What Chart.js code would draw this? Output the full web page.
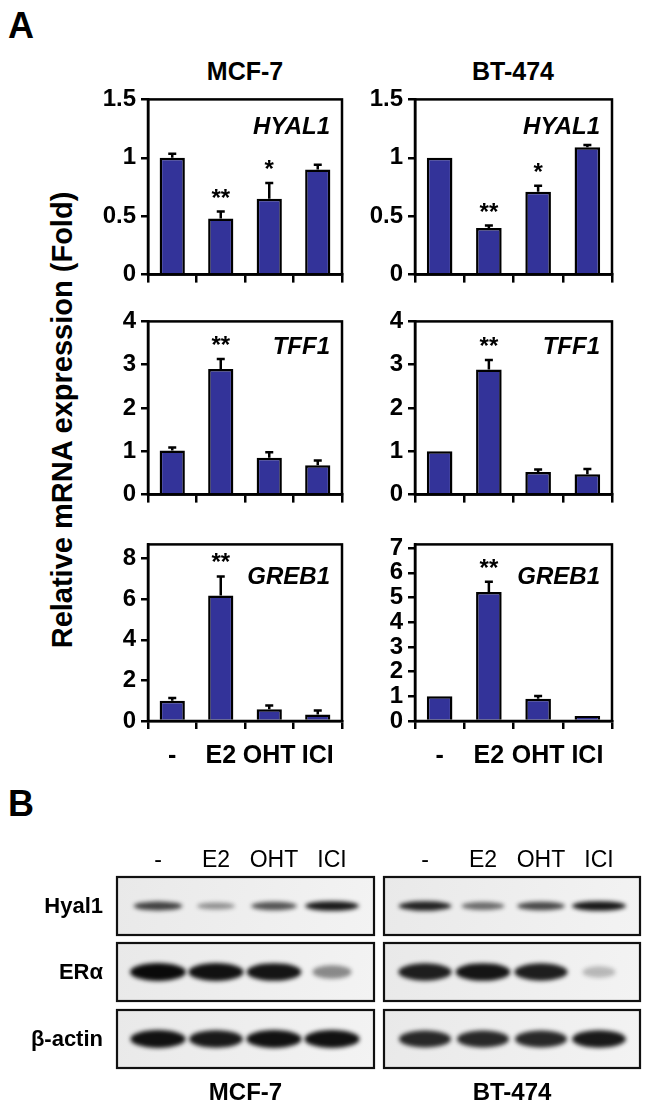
<!DOCTYPE html>
<html>
<head>
<meta charset="utf-8">
<script src="https://cdn.jsdelivr.net/npm/chart.js@4.4.1/dist/chart.umd.min.js"></script>
<style>
  body { margin: 0; background: #fff; }
  #fig { position: relative; width: 650px; height: 1106px; background: #fff; overflow: hidden;
         font-family: "Liberation Sans", Arial, sans-serif; color: #000; }
  canvas { position: absolute; }
  .t { position: absolute; font-weight: bold; white-space: nowrap; line-height: 1; }
  .ctr { transform: translate(-50%, -50%); }
  .rgt { transform: translate(-100%, -50%); }
</style>
</head>
<body>
<div id="fig">
  <div class="t" style="left:8px;top:8px;font-size:36px;">A</div>
  <div class="t ctr" style="left:245px;top:71px;font-size:25px;">MCF-7</div>
  <div class="t ctr" style="left:513px;top:71px;font-size:25px;">BT-474</div>
  <div class="t ctr" style="left:62px;top:420px;font-size:29px;transform:translate(-50%,-50%) rotate(-90deg);">Relative mRNA expression (Fold)</div>

  <canvas id="c1" width="272" height="214" style="left:78px;top:80px;"></canvas>
  <canvas id="c2" width="275" height="214" style="left:345px;top:80px;"></canvas>
  <canvas id="c3" width="272" height="212" style="left:78px;top:302px;"></canvas>
  <canvas id="c4" width="275" height="212" style="left:345px;top:302px;"></canvas>
  <canvas id="c5" width="272" height="260" style="left:78px;top:525px;"></canvas>
  <canvas id="c6" width="275" height="260" style="left:345px;top:525px;"></canvas>

  <div class="t" style="left:8px;top:786px;font-size:36px;">B</div>
  <canvas id="blot" width="650" height="230" style="left:0;top:860px;"></canvas>
  <div id="blotText"></div>
</div>

<script>
const FONT = '"Liberation Sans", Arial, sans-serif';

// treatments
const categories = ['-', 'E2', 'OHT', 'ICI'];

// HYAL1
const mcfHyal1 = [1.0, 0.48, 0.65, 0.90];
const mcfHyal1Err = [0.035, 0.06, 0.135, 0.04];
const btHyal1 = [1.0, 0.40, 0.71, 1.09];
const btHyal1Err = [0, 0.02, 0.05, 0.02];
const hyal1Stars = ['', '**', '*', ''];
const hyal1Ticks = [0, 0.5, 1, 1.5];

// TFF1
const mcfTff1 = [1.02, 2.90, 0.85, 0.68];
const mcfTff1Err = [0.07, 0.23, 0.13, 0.11];
const btTff1 = [1.0, 2.89, 0.52, 0.47];
const btTff1Err = [0, 0.22, 0.06, 0.12];
const tff1Stars = ['', '**', '', ''];
const tff1Ticks = [0, 1, 2, 3, 4];

// GREB1
const mcfGreb1 = [1.0, 6.18, 0.58, 0.32];
const mcfGreb1Err = [0.13, 0.94, 0.18, 0.2];
const btGreb1 = [1.0, 5.22, 0.9, 0.2];
const btGreb1Err = [0, 0.42, 0.11, 0];
const greb1Stars = ['', '**', '', ''];
const mcfGreb1Ticks = [0, 2, 4, 6, 8];
const btGreb1Ticks = [0, 1, 2, 3, 4, 5, 6, 7];

// western blot (band darkness 0..1, one row per protein)
const blotRows = ['Hyal1', 'ER\u03b1', '\u03b2-actin'];
const cellLines = ['MCF-7', 'BT-474'];
const mcfBands = [
  [0.72, 0.30, 0.62, 0.92],
  [1.00, 0.97, 0.95, 0.35],
  [0.97, 0.92, 0.97, 0.97]
];
const btBands = [
  [0.88, 0.50, 0.68, 0.93],
  [0.90, 0.95, 0.90, 0.12],
  [0.85, 0.85, 0.85, 0.92]
];

Chart.defaults.font.family = FONT;
Chart.defaults.color = '#000';

const panelDeco = {
  id: 'panelDeco',
  afterDatasetsDraw(chart, args, opts) {
    const { ctx, chartArea: a, scales: { x, y } } = chart;
    const vals = chart.data.datasets[0].data;
    ctx.save();
    ctx.strokeStyle = '#000';
    ctx.fillStyle = '#000';
    ctx.lineWidth = 2.5;
    vals.forEach((v, i) => {
      const px = x.getPixelForValue(i);
      const e = opts.err[i];
      const et = y.getPixelForValue(v + e);
      if (e > 0) {
        ctx.beginPath();
        ctx.moveTo(px, y.getPixelForValue(v));
        ctx.lineTo(px, et);
        ctx.moveTo(px - 4, et);
        ctx.lineTo(px + 4, et);
        ctx.stroke();
      }
      if (opts.stars[i]) {
        ctx.font = 'bold 24px ' + FONT;
        ctx.textAlign = 'center';
        ctx.textBaseline = 'alphabetic';
        ctx.fillText(opts.stars[i], px, et - 6);
      }
    });
    ctx.font = 'italic bold 24px ' + FONT;
    ctx.textAlign = 'right';
    ctx.textBaseline = 'alphabetic';
    ctx.fillText(opts.gene, a.right - 12, a.top + opts.geneDy);
    ctx.strokeRect(a.left, a.top, a.right - a.left, a.bottom - a.top);
    ctx.restore();
  }
};

function panel(id, vals, err, stars, gene, geneDy, yTicks, yMax, showLabels) {
  new Chart(document.getElementById(id), {
    type: 'bar',
    data: {
      labels: categories,
      datasets: [{
        data: vals,
        backgroundColor: '#333399',
        borderColor: '#000',
        borderWidth: 2.5,
        barPercentage: 0.52,
        categoryPercentage: 1
      }]
    },
    options: {
      responsive: false,
      animation: false,
      devicePixelRatio: 1,
      layout: { padding: { top: 16, right: 8, bottom: showLabels ? 2 : 8, left: 0 } },
      plugins: {
        legend: { display: false },
        tooltip: { enabled: false },
        panelDeco: { err: err, stars: stars, gene: gene, geneDy: geneDy }
      },
      scales: {
        x: {
          offset: true,
          border: { display: true, color: '#000', width: 2.5 },
          grid: { offset: true, drawOnChartArea: false, color: '#000', lineWidth: 2.5, tickLength: 8 },
          ticks: { display: showLabels, color: '#000', padding: 12, maxRotation: 0, autoSkip: false,
                   font: { size: 25, weight: 'bold' } }
        },
        y: {
          min: 0,
          max: yMax,
          afterBuildTicks: ax => { ax.ticks = yTicks.map(v => ({ value: v })); },
          afterFit: ax => { ax.width = 70; },
          border: { display: true, color: '#000', width: 2.5 },
          grid: { drawOnChartArea: false, color: '#000', lineWidth: 2.5, tickLength: 7 },
          ticks: { color: '#000', padding: 5, autoSkip: false, font: { size: 24, weight: 'bold' },
                   callback: v => String(v) }
        }
      }
    },
    plugins: [panelDeco]
  });
}

panel('c1', mcfHyal1, mcfHyal1Err, hyal1Stars, 'HYAL1', 35, hyal1Ticks, 1.5, false);
panel('c2', btHyal1, btHyal1Err, hyal1Stars, 'HYAL1', 35, hyal1Ticks, 1.5, false);
panel('c3', mcfTff1, mcfTff1Err, tff1Stars, 'TFF1', 33, tff1Ticks, 4, false);
panel('c4', btTff1, btTff1Err, tff1Stars, 'TFF1', 33, tff1Ticks, 4, false);
panel('c5', mcfGreb1, mcfGreb1Err, greb1Stars, 'GREB1', 40, mcfGreb1Ticks, 8.7, true);
panel('c6', btGreb1, btGreb1Err, greb1Stars, 'GREB1', 40, btGreb1Ticks, 7.15, true);

// ---- panel B: blot drawing ----
const blot = document.getElementById('blot');
const bctx = blot.getContext('2d');
const blotTop = 860;
const boxes = [{ x: 117, w: 257, bands: mcfBands }, { x: 384, w: 256, bands: btBands }];
const rowY = [877, 943, 1010];
const rowH = 58;
const bandH = [10, 18, 18];
const textBox = document.getElementById('blotText');

function addText(txt, x, y, size, weight, cls) {
  const d = document.createElement('div');
  d.className = 't ' + cls;
  d.style.left = x + 'px';
  d.style.top = y + 'px';
  d.style.fontSize = size + 'px';
  d.style.fontWeight = weight;
  d.textContent = txt;
  textBox.appendChild(d);
}

boxes.forEach((b, bi) => {
  rowY.forEach((ry, r) => {
    const y0 = ry - blotTop;
    const g = bctx.createLinearGradient(b.x, y0, b.x + b.w, y0 + rowH);
    g.addColorStop(0, '#e9e9e9');
    g.addColorStop(1, '#f3f3f3');
    bctx.fillStyle = g;
    bctx.fillRect(b.x, y0, b.w, rowH);
    b.bands[r].forEach((a, i) => {
      const cx = b.x + 41 + i * 58;
      const cy = y0 + rowH / 2;
      const w = 30 + 26 * a;
      const h = bandH[r] * (0.6 + 0.4 * a);
      bctx.save();
      bctx.filter = 'blur(2px)';
      bctx.fillStyle = 'rgba(10,10,10,' + (0.15 + 0.85 * a) + ')';
      bctx.beginPath();
      bctx.ellipse(cx, cy, w / 2, h / 2, 0, 0, Math.PI * 2);
      bctx.fill();
      bctx.restore();
    });
    bctx.strokeStyle = '#111';
    bctx.lineWidth = 2.2;
    bctx.strokeRect(b.x, y0, b.w, rowH);
  });
  categories.forEach((c, i) => addText(c, b.x + 41 + i * 58, 859, 23, 'normal', 'ctr'));
  addText(cellLines[bi], b.x + b.w / 2, 1092, 24, 'bold', 'ctr');
});
blotRows.forEach((name, r) => addText(name, 103, rowY[r] + rowH / 2, 22, 'bold', 'rgt'));
</script>
</body>
</html>
